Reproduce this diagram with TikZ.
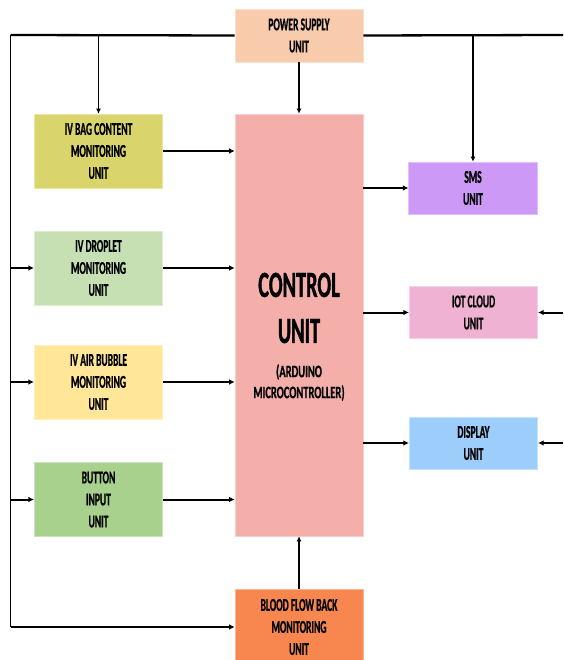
\documentclass[tikz,border=0pt]{standalone}
\usepackage{fontspec}
\usetikzlibrary{arrows.meta}
\newfontfamily\lblfont{Carlito}[FakeStretch=0.53, BoldFeatures={FakeBold=0.7}]
\newfontfamily\subfont{Carlito}[FakeStretch=0.6, BoldFeatures={FakeBold=0.7}]
\newfontfamily\bigfont{Carlito}[FakeStretch=0.55, BoldFeatures={FakeBold=1}]

\definecolor{cPower}{HTML}{F8CBAD}
\definecolor{cBag}{HTML}{DAD46C}
\definecolor{cDrop}{HTML}{C6E0B4}
\definecolor{cAir}{HTML}{FFE699}
\definecolor{cBtn}{HTML}{A9D18E}
\definecolor{cCtrl}{HTML}{F4AFAB}
\definecolor{cSms}{HTML}{CC99F7}
\definecolor{cIot}{HTML}{F0B2D3}
\definecolor{cDisp}{HTML}{9DCDFB}
\definecolor{cBlood}{HTML}{F7874F}

\tikzset{
  unitbox/.style={fill=#1, draw=#1!60!white, line width=0.6pt, align=center,
    inner sep=0pt, font=\lblfont\bfseries\fontsize{18}{22}\selectfont},
  smallbox/.style={unitbox=#1, minimum width=128.5pt, minimum height=74pt},
  outbox/.style={unitbox=#1, minimum width=128.5pt, minimum height=52pt},
  link/.style={line width=2pt, -{Latex[length=5.5pt,width=5.5pt]}},
  thinlink/.style={line width=1.3pt, -{Latex[length=5pt,width=5pt]}},
  bus/.style={line width=2.3pt},
}

\begin{document}
\begin{tikzpicture}[x=1pt,y=1pt]
\clip (0,0) rectangle (563,-660);

% supply and central controller
\node[unitbox=cPower, minimum width=128pt, minimum height=53pt] (pwr) at (299,-35.5) {POWER SUPPLY\\UNIT};
\node[unitbox=cCtrl, minimum width=128pt, minimum height=422pt] (ctrl) at (299,-325) {};
\node[align=center, font=\bigfont\bfseries\fontsize{37}{46}\selectfont] (ctrltitle) at (299,-308) {CONTROL\\UNIT};
\node[align=center, font=\subfont\bfseries\fontsize{17.5}{21}\selectfont] (ctrlsub) at (299,-382.5) {(ARDUINO\\MICROCONTROLLER)};

% input units
\node[smallbox=cBag] (bag) at (98.5,-151) {IV BAG CONTENT\\MONITORING\\UNIT};
\node[smallbox=cDrop] (drop) at (98.5,-268) {IV DROPLET\\MONITORING\\UNIT};
\node[smallbox=cAir] (air) at (98.5,-382) {IV AIR BUBBLE\\MONITORING\\UNIT};
\node[smallbox=cBtn] (btn) at (98.5,-499.5) {BUTTON\\INPUT\\UNIT};
\node[unitbox=cBlood, minimum width=128pt, minimum height=76pt] (blood) at (299,-627) {BLOOD FLOW BACK\\MONITORING\\UNIT};

% output units
\node[outbox=cSms] (sms) at (473,-188) {SMS\\UNIT};
\node[outbox=cIot] (iot) at (473.5,-312.5) {IOT CLOUD\\UNIT};
\node[outbox=cDisp] (disp) at (473.5,-443) {DISPLAY\\UNIT};

% power bus corners and free ends
\coordinate (tl) at (10.5,-35);
\coordinate (tr) at (563,-35);
\coordinate (bl) at (10.5,-627);
\coordinate (iotin) at (563,-312.5);
\coordinate (dispin) at (563,-443);

% power bus
\draw[bus] (tl) -- (pwr.west);
\draw[bus] (pwr.east) -- (tr);
\draw[line width=1.8pt] (tl) -- (bl);
\draw[link] (bl) -- (blood.west);
\draw[thinlink] (bag.north |- tl) -- (bag.north);
\draw[thinlink] (sms.north |- tr) -- (sms.north);
\draw[thinlink] (pwr.south) -- (ctrl.north);
\draw[link] (tl |- drop.west) -- (drop.west);
\draw[link] (tl |- air.west) -- (air.west);
\draw[link] (tl |- btn.west) -- (btn.west);

% sensor data into the controller
\draw[link] (bag.east) -- (ctrl.west |- bag.east);
\draw[link] (drop.east) -- (ctrl.west |- drop.east);
\draw[link] (air.east) -- (ctrl.west |- air.east);
\draw[link] (btn.east) -- (ctrl.west |- btn.east);
\draw[thinlink] (blood.north) -- (ctrl.south);

% controller outputs
\draw[link] (ctrl.east |- sms.west) -- (sms.west);
\draw[link] (ctrl.east |- iot.west) -- (iot.west);
\draw[link] (ctrl.east |- disp.west) -- (disp.west);
\draw[link] (iotin) -- (iot.east);
\draw[link] (dispin) -- (disp.east);
\end{tikzpicture}
\end{document}
